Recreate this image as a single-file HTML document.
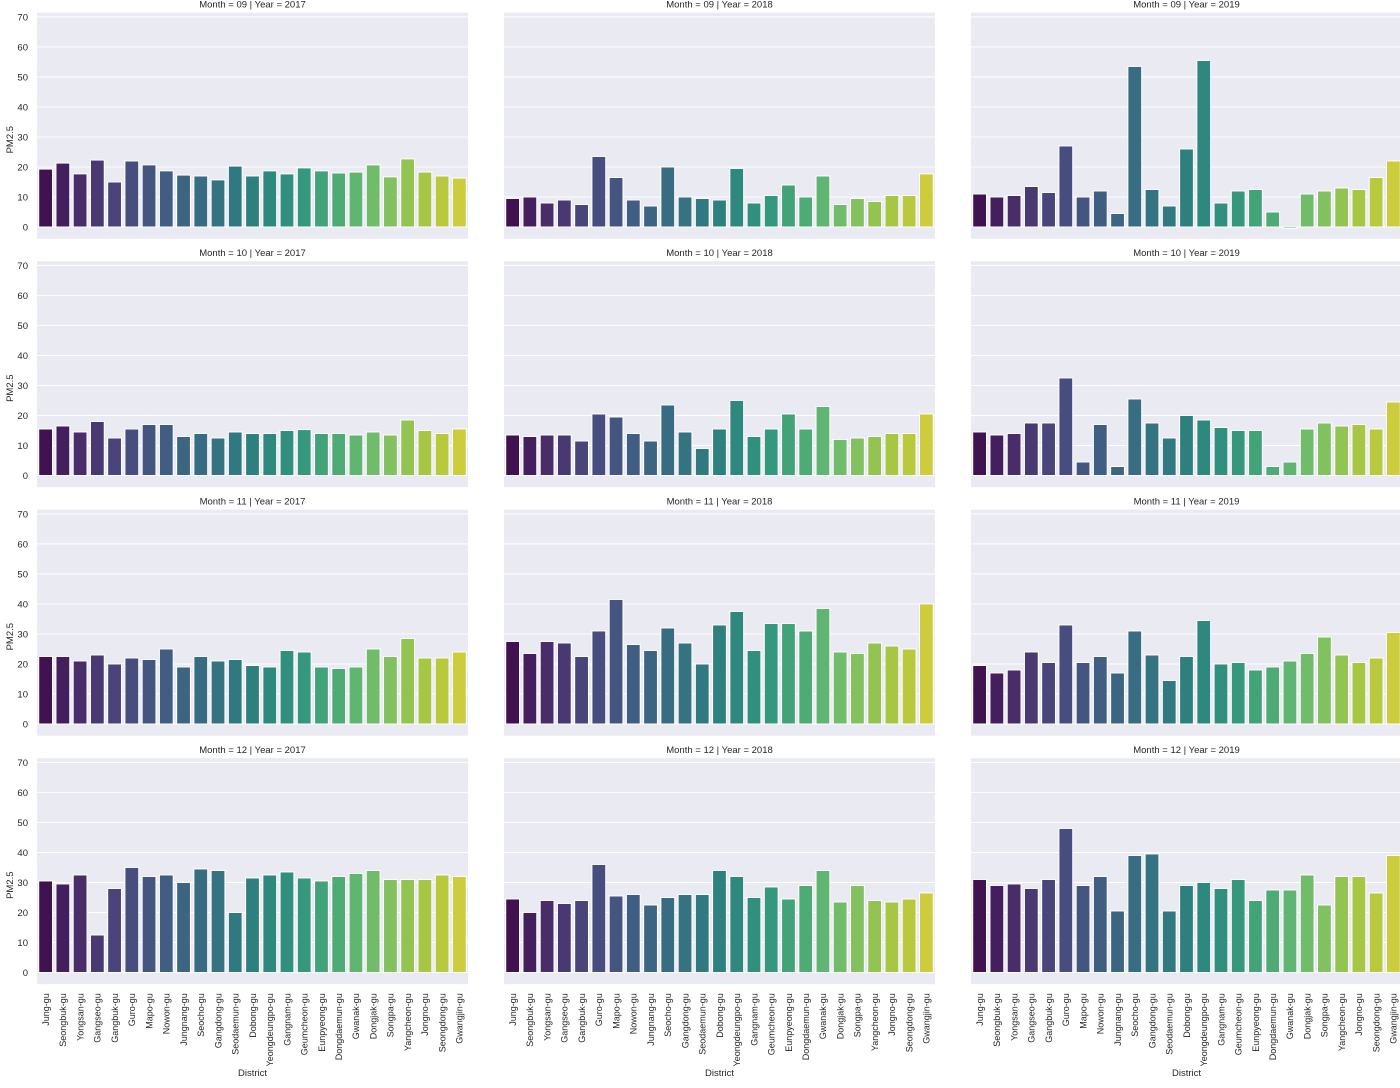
<!DOCTYPE html>
<html><head><meta charset="utf-8">
<style>
body{margin:0;background:#fff;font-family:"Liberation Sans",sans-serif;}
svg text{font-family:"Liberation Sans",sans-serif;fill:#262626;}
</style></head>
<body>
<svg id="chart" width="1400" height="1083" xmlns="http://www.w3.org/2000/svg"></svg>
<script>
const districts=["Jung-gu","Seongbuk-gu","Yongsan-gu","Gangseo-gu","Gangbuk-gu","Guro-gu","Mapo-gu","Nowon-gu","Jungnang-gu","Seocho-gu","Gangdong-gu","Seodaemun-gu","Dobong-gu","Yeongdeungpo-gu","Gangnam-gu","Geumcheon-gu","Eunpyeong-gu","Dongdaemun-gu","Gwanak-gu","Dongjak-gu","Songpa-gu","Yangcheon-gu","Jongno-gu","Seongdong-gu","Gwangjin-gu"];
const months=["09","10","11","12"];
const years=["2017","2018","2019"];
const yTicks=[0,10,20,30,40,50,60,70];
const v09_2017=[19.3,21.3,17.7,22.3,15,22,20.7,18.7,17.3,17,15.7,20.3,17,18.7,17.7,19.7,18.7,18,18.3,20.7,16.7,22.7,18.3,17,16.3];
const v09_2018=[9.5,10,8,9,7.5,23.5,16.5,9,7,20,10,9.5,9,19.5,8,10.5,14,10,17,7.5,9.5,8.5,10.5,10.5,17.7];
const v09_2019=[11,10,10.5,13.5,11.5,27,10,12,4.5,53.5,12.5,7,26,55.5,8,12,12.5,5,-0.5,11,12,13,12.5,16.5,22];
const v10_2017=[15.5,16.5,14.5,18,12.5,15.5,17,17,13,14,12.5,14.5,14,14,15,15.3,14,14,13.5,14.5,13.5,18.5,15,14,15.5];
const v10_2018=[13.5,13,13.5,13.5,11.5,20.5,19.5,14,11.5,23.5,14.5,9,15.5,25,13,15.5,20.5,15.5,23,12,12.5,13,14,14,20.5];
const v10_2019=[14.5,13.5,14,17.5,17.5,32.5,4.5,17,3,25.5,17.5,12.5,20,18.5,16,15,15,3,4.5,15.5,17.5,16.5,17,15.5,24.5];
const v11_2017=[22.5,22.5,21,23,20,22,21.5,25,19,22.5,21,21.5,19.5,19,24.5,24,19,18.5,19,25,22.5,28.5,22,22,24];
const v11_2018=[27.5,23.5,27.5,27,22.5,31,41.5,26.5,24.5,32,27,20,33,37.5,24.5,33.5,33.5,31,38.5,24,23.5,27,26,25,40];
const v11_2019=[19.5,17,18,24,20.5,33,20.5,22.5,17,31,23,14.5,22.5,34.5,20,20.5,18,19,21,23.5,29,23,20.5,22,30.5];
const v12_2017=[30.5,29.5,32.5,12.5,28,35,32,32.5,30,34.5,34,20,31.5,32.5,33.5,31.5,30.5,32,33,34,31,31,31,32.5,32];
const v12_2018=[24.5,20,24,23,24,36,25.5,26,22.5,25,26,26,34,32,25,28.5,24.5,29,34,23.5,29,24,23.5,24.5,26.5];
const v12_2019=[31,29,29.5,28,31,48,29,32,20.5,39,39.5,20.5,29,30,28,31,24,27.5,27.5,32.5,22.5,32,32,26.5,39];
const grid=[[v09_2017,v09_2018,v09_2019],[v10_2017,v10_2018,v10_2019],[v11_2017,v11_2018,v11_2019],[v12_2017,v12_2018,v12_2019]];

function viridisRGB(t){
  const stops=[[68,1,84],[72,35,116],[64,67,135],[52,94,141],[41,120,142],[32,144,140],[34,167,132],[68,190,112],[121,209,81],[189,222,38],[253,231,37]];
  const p=t*(stops.length-1);const i=Math.min(Math.floor(p),stops.length-2);const f=p-i;
  return stops[i].map((a,k)=>(a+(stops[i+1][k]-a)*f)/255);
}
function desat(rgb,s){
  let [r,g,b]=rgb;const mx=Math.max(r,g,b),mn=Math.min(r,g,b);const l=(mx+mn)/2;
  let h=0,sat=0;
  if(mx!==mn){const d=mx-mn;sat=l>0.5?d/(2-mx-mn):d/(mx+mn);
    if(mx===r)h=((g-b)/d+(g<b?6:0));else if(mx===g)h=(b-r)/d+2;else h=(r-g)/d+4;h/=6;}
  sat*=s;
  const q=l<0.5?l*(1+sat):l+sat-l*sat,p=2*l-q;
  const hue=t=>{if(t<0)t+=1;if(t>1)t-=1;if(t<1/6)return p+(q-p)*6*t;if(t<1/2)return q;if(t<2/3)return p+(q-p)*(2/3-t)*6;return p;};
  const o=sat===0?[l,l,l]:[hue(h+1/3),hue(h),hue(h-1/3)];
  return `rgb(${o.map(x=>Math.round(x*255)).join(",")})`;
}
const NS="http://www.w3.org/2000/svg";
const svg=document.getElementById("chart");
function mk(tag,attrs,parent){const e=document.createElementNS(NS,tag);for(const k in attrs)e.setAttribute(k,attrs[k]);(parent||svg).appendChild(e);return e;}

const colX=[37,504,971], W=431;
const rowTop=[12.7,261.2,509.7,758.2], H=226;
const yMin=-3.9,yMax=71.4;
const N=districts.length;
for(let r=0;r<4;r++){
  for(let c=0;c<3;c++){
    const g=mk("g",{});
    
    
    const x0=colX[c], y0=rowTop[r];
    const yS=v=>y0+(yMax-v)/(yMax-yMin)*H;
    const band=W/N;
    const xS=i=>x0+band*(i+0.5);
    const bg=mk("rect",{x:x0,y:y0,width:W,height:H,fill:"#eaeaf2"},g);
    
    
    yTicks.forEach(t=>{
      const l=mk("line",{x1:x0,x2:x0+W,y1:yS(t),y2:yS(t),stroke:"#fff","stroke-width":1},g);
      
      
      if(c===0){
        const tx=mk("text",{x:x0-9,y:yS(t)+3.5,"text-anchor":"end","font-size":"9.5"},g);
        tx.textContent=t;
        
        
      }
    });
    const vals=grid[r][c];
    vals.forEach((v,i)=>{
      const top=yS(Math.max(v,0)),bot=yS(Math.min(v,0));
      const col=desat(viridisRGB(0.02+0.94*i/(N-1)),0.75);
      const b=mk("rect",{x:xS(i)-band*0.4,y:top,width:band*0.8,height:Math.max(bot-top,0.5),fill:col,stroke:"#fff","stroke-width":1},g);
      
      
    });
    const title=mk("text",{x:x0+W/2,y:y0-5,"text-anchor":"middle","font-size":"9.5"},g);
    title.textContent="Month = "+months[r]+" | Year = "+years[c];
    
    
    if(c===0){
      const yl=mk("text",{x:0,y:0,"text-anchor":"middle","font-size":"9.5",transform:`translate(13,${y0+H/2+14}) rotate(-90)`},g);
      yl.textContent="PM2.5";
      
      
    }
    if(r===3){
      districts.forEach((d,i)=>{
        const t=mk("text",{x:0,y:0,"text-anchor":"end","font-size":"9",transform:`translate(${xS(i)+3.3},${y0+H+9}) rotate(-90)`},g);
        t.textContent=d;
        
        
      });
      const xl=mk("text",{x:x0+W/2,y:1076,"text-anchor":"middle","font-size":"9.5"},g);
      xl.textContent="District";
      
      
    }
  }
}
</script>
</body></html>
